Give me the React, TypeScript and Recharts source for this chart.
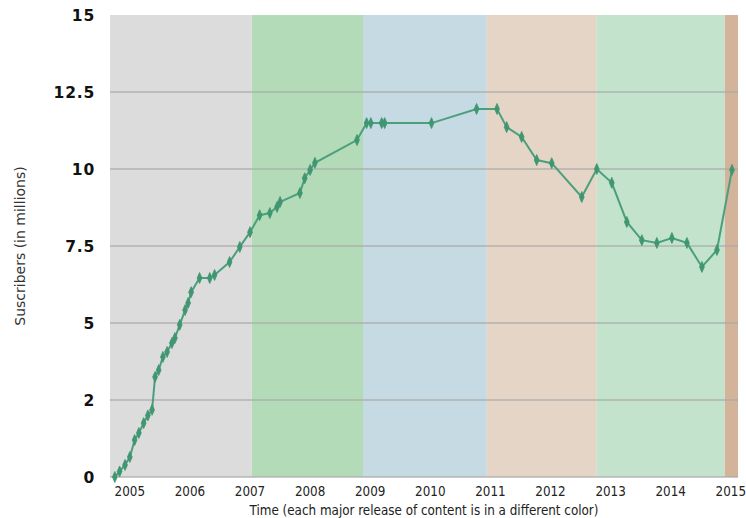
import React from 'react';
import { LineChart, Line, XAxis, YAxis, ReferenceArea, ReferenceLine } from 'recharts';

// time (decimal years) of each data point
const times = [
  2004.75, 2004.83, 2004.92, 2005.0, 2005.08, 2005.15, 2005.23, 2005.3, 2005.37, 2005.42,
  2005.48, 2005.55, 2005.62, 2005.7, 2005.75, 2005.83, 2005.92, 2005.97, 2006.02, 2006.16,
  2006.33, 2006.41, 2006.66, 2006.83, 2007.0, 2007.16, 2007.33, 2007.45, 2007.5, 2007.83,
  2007.91, 2008.0, 2008.08, 2008.78, 2008.94, 2009.01, 2009.19, 2009.24, 2010.02, 2010.77,
  2011.11, 2011.27, 2011.52, 2011.77, 2012.02, 2012.52, 2012.77, 2013.02, 2013.27, 2013.52,
  2013.77, 2014.02, 2014.27, 2014.52, 2014.77, 2015.02,
];

// subscribers in millions
const subscribers = [
  0.0, 0.18, 0.39, 0.65, 1.2, 1.43, 1.75, 2.0, 2.18, 3.25,
  3.47, 3.9, 4.06, 4.35, 4.51, 4.94, 5.42, 5.65, 6.0, 6.46,
  6.46, 6.56, 6.98, 7.47, 7.95, 8.5, 8.57, 8.77, 8.93, 9.22,
  9.7, 9.97, 10.2, 10.94, 11.49, 11.49, 11.49, 11.49, 11.49, 11.95,
  11.95, 11.36, 11.04, 10.29, 10.19, 9.09, 10.0, 9.55, 8.28, 7.69,
  7.6, 7.76, 7.6, 6.82, 7.37, 9.97,
];

// content release eras (start, end) and colours
const eraStarts = [2004.67, 2007.03, 2008.88, 2010.94, 2012.77, 2014.9];
const eraEnds = [2007.03, 2008.88, 2010.94, 2012.77, 2014.9, 2015.12];
const eraColors = ['#dcdcdc', '#b4dbb8', '#c6dae3', '#e5d5c6', '#c3e3cc', '#d3b49b'];

const xTicks = [2005, 2006, 2007, 2008, 2009, 2010, 2011, 2012, 2013, 2014, 2015];
const yTicks = [0, 2.5, 5, 7.5, 10, 12.5, 15];
const yTickLabels = ['0', '2', '5', '7.5', '10', '12.5', '15'];

const data = times.map((t, i) => ({ t, v: subscribers[i] }));

const LINE = '#4c9f7d';

const Marker = (props: any) => {
  const { cx, cy, index } = props;
  if (cx == null || cy == null) return <g key={`m${index}`} />;
  return (
    <path
      key={`m${index}`}
      d={`M${cx},${cy - 5.5} L${cx + 2.4},${cy} L${cx},${cy + 5.5} L${cx - 2.4},${cy} Z`}
      fill="#3f9670"
      stroke="#3f9670"
      strokeWidth={0.8}
    />
  );
};

export default function App() {
  return (
    <div style={{ position: 'absolute', left: 0, top: 0, width: 746, height: 518, background: '#fff' }}>
      <LineChart width={746} height={518} data={data} margin={{ top: 15, right: 8, bottom: 0, left: 0 }}>
        {eraStarts.map((s, i) => (
          <ReferenceArea
            key={`era${i}`}
            x1={s}
            x2={eraEnds[i]}
            y1={0}
            y2={15}
            fill={eraColors[i]}
            fillOpacity={1}
            stroke="none"
            ifOverflow="hidden"
          />
        ))}
        {yTicks.slice(0, -1).map((y) => (
          <ReferenceLine key={`g${y}`} y={y} stroke="#a9a9a9" strokeOpacity={0.6} strokeWidth={2} />
        ))}
        <XAxis
          dataKey="t"
          type="number"
          domain={[2004.67, 2015.12]}
          ticks={xTicks}
          allowDataOverflow
          axisLine={false}
          tickLine={false}
          tickSize={0}
          tickMargin={10}
          height={41}
          tick={{ fontFamily: 'DejaVu Sans Condensed', fontSize: 13.3, fill: '#222' }}
          label={{
            value: 'Time (each major release of content is in a different color)',
            position: 'insideBottom',
            offset: 3,
            style: { fontFamily: 'DejaVu Sans Condensed', fontSize: 13.3, fill: '#222' },
          }}
        />
        <YAxis
          type="number"
          domain={[0, 15]}
          ticks={yTicks}
          width={110}
          axisLine={false}
          tickLine={false}
          tickSize={0}
          tickMargin={15}
          tickFormatter={(v: number) => yTickLabels[yTicks.indexOf(v)] ?? String(v)}
          tick={{ fontFamily: 'DejaVu Sans', fontWeight: 'bold', fontSize: 15.5, fill: '#111', letterSpacing: 0.8 }}
          label={{
            value: 'Suscribers (in millions)',
            angle: -90,
            position: 'insideLeft',
            offset: 20,
            style: { fontFamily: 'DejaVu Sans', fontSize: 14, fill: '#333', textAnchor: 'middle' },
          }}
        />
        <Line
          type="linear"
          dataKey="v"
          stroke={LINE}
          strokeWidth={2}
          dot={Marker}
          activeDot={false}
          isAnimationActive={false}
        />
      </LineChart>
    </div>
  );
}
